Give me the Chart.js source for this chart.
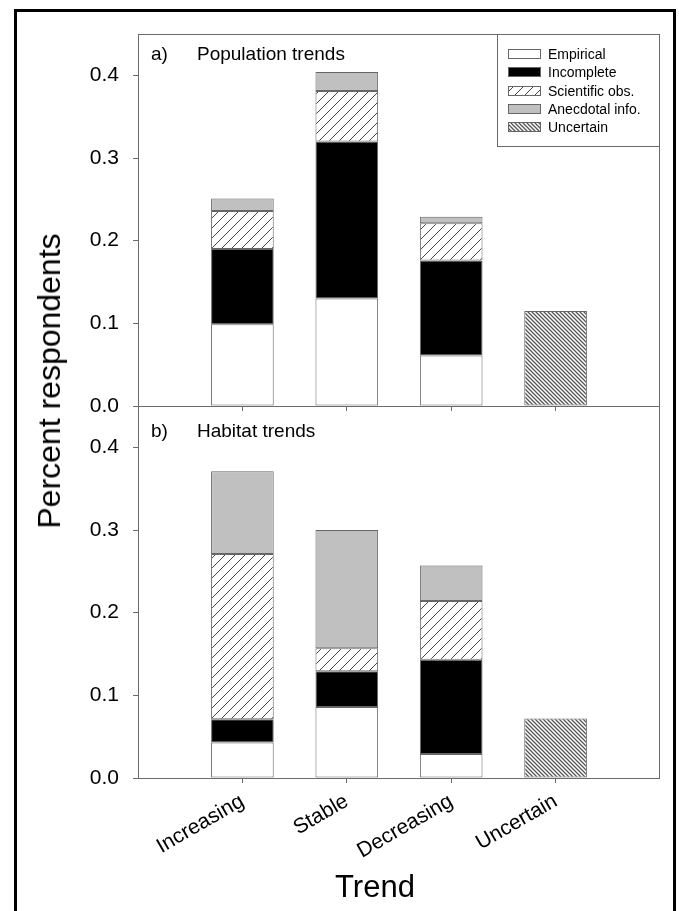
<!DOCTYPE html>
<html><head><meta charset="utf-8">
<script src="https://cdn.jsdelivr.net/npm/chart.js@4.4.0/dist/chart.umd.min.js"></script>
<style>
html,body{margin:0;padding:0;background:#fff;}
#wrap{position:relative;width:679px;height:911px;overflow:hidden;font-family:"Liberation Sans",Arial,sans-serif;}
#frame{position:absolute;left:14px;top:9px;width:656px;height:1000px;border:3px solid #000;}
canvas{position:absolute;left:0;top:0;}
.lbl{position:absolute;white-space:nowrap;color:#000;}
</style></head><body>
<div id="wrap">
<div id="frame"></div>
<canvas id="c1" width="679" height="911"></canvas>
<canvas id="c2" width="679" height="911"></canvas>
<div class="lbl" style="left:151px;top:44px;font-size:19px;line-height:19px">a)</div>
<div class="lbl" style="left:197px;top:44px;font-size:19px;line-height:19px">Population trends</div>
<div class="lbl" style="left:151px;top:421px;font-size:19px;line-height:19px">b)</div>
<div class="lbl" style="left:197px;top:421px;font-size:19px;line-height:19px">Habitat trends</div>
<div class="lbl" id="ytitle" style="left:49px;top:381px;font-size:32px;line-height:32px;transform:translate(-50%,-50%) rotate(-90deg);">Percent respondents</div>
<div class="lbl" style="left:375px;top:871px;font-size:31px;line-height:31px;transform:translateX(-50%);">Trend</div>
</div>
<script>
// ---- data ----
const categories = ['Increasing', 'Stable', 'Decreasing', 'Uncertain'];
const seriesNames = ['Empirical', 'Incomplete', 'Scientific obs.', 'Anecdotal info.', 'Uncertain'];
const yTicks = [0, 0.1, 0.2, 0.3, 0.4];

// a) Population trends (segment heights)
const popEmpirical  = [0.099, 0.130, 0.061, null];
const popIncomplete = [0.091, 0.190, 0.115, null];
const popScientific = [0.046, 0.061, 0.045, null];
const popAnecdotal  = [0.015, 0.023, 0.008, null];
const popUncertain  = [null, null, null, 0.115];

// b) Habitat trends (segment heights)
const habEmpirical  = [0.043, 0.086, 0.029, null];
const habIncomplete = [0.028, 0.043, 0.114, null];
const habScientific = [0.200, 0.028, 0.071, null];
const habAnecdotal  = [0.100, 0.143, 0.043, null];
const habUncertain  = [null, null, null, 0.072];

// ---- styles ----
const FONT = '"Liberation Sans", Arial, sans-serif';
Chart.defaults.font.family = FONT;
Chart.defaults.color = '#000';
const axisColor = '#6a6a6a';
const barBorder = '#666666';

function hatch(size, dir, color, lw) {
  const c = document.createElement('canvas');
  c.width = size; c.height = size;
  const g = c.getContext('2d');
  g.fillStyle = '#fff'; g.fillRect(0, 0, size, size);
  g.strokeStyle = color; g.lineWidth = lw;
  g.beginPath();
  if (dir === '/') {
    for (let k = -1; k <= 1; k++) {
      g.moveTo(k * size - 1, size + 1); g.lineTo(k * size + size + 1, -1);
    }
  } else {
    for (let k = -1; k <= 1; k++) {
      g.moveTo(k * size - 1, -1); g.lineTo(k * size + size + 1, size + 1);
    }
  }
  g.stroke();
  return g.createPattern(c, 'repeat');
}
const tmpCtx = document.getElementById('c1').getContext('2d');
const fills = ['#ffffff', '#000000', hatch(10, '/', '#444', 1), '#c0c0c0', hatch(4, '\\', '#555', 1.3)];

function toPts(arr) { return arr.map((v, i) => ({ x: i + 1, y: v })).filter(p => p.y !== null); }

function makeDatasets(series) {
  return series.map((arr, k) => ({
    label: seriesNames[k],
    data: toPts(arr),
    backgroundColor: fills[k],
    borderColor: barBorder,
    borderWidth: 1,
    borderSkipped: false,
    barPercentage: 0.6,
    categoryPercentage: 1.0
  }));
}

const framePlugin = {
  id: 'frame',
  afterDraw(chart) {
    const a = chart.chartArea, ctx = chart.ctx;
    ctx.save();
    ctx.strokeStyle = axisColor; ctx.lineWidth = 1;
    ctx.strokeRect(Math.round(a.left) + 0.5, Math.round(a.top) + 0.5,
                   Math.round(a.right - a.left) - 1, Math.round(a.bottom - a.top));
    ctx.restore();
  }
};

const legendPlugin = {
  id: 'boxLegend',
  afterDraw(chart) {
    const a = chart.chartArea, ctx = chart.ctx;
    const w = 163, h = 112;
    const x0 = Math.round(a.right) - w, y0 = Math.round(a.top);
    ctx.save();
    ctx.fillStyle = '#fff';
    ctx.fillRect(x0, y0, w, h);
    ctx.strokeStyle = axisColor; ctx.lineWidth = 1;
    ctx.strokeRect(x0 + 0.5, y0 + 0.5, w - 1, h);
    ctx.font = '14px ' + FONT;
    ctx.textBaseline = 'alphabetic';
    chart.data.datasets.forEach((ds, i) => {
      const cy = y0 + 20 + i * 18.25;
      ctx.fillStyle = ds.backgroundColor;
      ctx.fillRect(x0 + 11, Math.round(cy - 5), 33, 10);
      ctx.strokeStyle = barBorder;
      ctx.strokeRect(x0 + 11.5, Math.round(cy - 5) + 0.5, 32, 9);
      ctx.fillStyle = '#000';
      ctx.fillText(ds.label, x0 + 51, cy + 5);
    });
    ctx.restore();
  }
};

function yScale() {
  return {
    type: 'linear', min: 0, max: 0.45, stacked: true,
    afterBuildTicks: ax => { ax.ticks = yTicks.map(v => ({ value: v })); },
    afterFit: ax => { ax.width = 138; },
    ticks: { stepSize: 0.1, padding: 14, font: { size: 21 }, color: '#000',
             callback: v => Number(v).toFixed(1) },
    grid: { display: true, drawOnChartArea: false, drawTicks: true, tickLength: 5, color: axisColor },
    border: { display: false }
  };
}
function xScale(showLabels, h) {
  return {
    type: 'linear', min: 0, max: categories.length + 1, stacked: true, offset: false,
    afterBuildTicks: ax => { ax.ticks = categories.map((c, i) => ({ value: i + 1 })); },
    afterFit: ax => { ax.height = h; },
    ticks: { display: showLabels, autoSkip: false, minRotation: 30, maxRotation: 30, padding: 6,
             font: { size: 21 }, color: '#000',
             callback: v => categories[Math.round(v) - 1] || '' },
    grid: { display: true, drawOnChartArea: false, drawTicks: true, tickLength: 5, color: axisColor, offset: false },
    border: { display: false }
  };
}

const common = (padding, xs) => ({
  responsive: false, animation: false,
  layout: { padding },
  plugins: { legend: { display: false }, tooltip: { enabled: false } },
  scales: { x: xs, y: yScale() }
});

new Chart(document.getElementById('c1'), {
  type: 'bar',
  data: { datasets: makeDatasets([popEmpirical, popIncomplete, popScientific, popAnecdotal, popUncertain]) },
  options: common({ left: 0, top: 34, right: 19, bottom: 911 - 406 - 10 }, xScale(false, 10)),
  plugins: [framePlugin, legendPlugin]
});

new Chart(document.getElementById('c2'), {
  type: 'bar',
  data: { datasets: makeDatasets([habEmpirical, habIncomplete, habScientific, habAnecdotal, habUncertain]) },
  options: common({ left: 0, top: 406, right: 19, bottom: 33 }, xScale(true, 100)),
  plugins: [framePlugin]
});
</script>
</body></html>
